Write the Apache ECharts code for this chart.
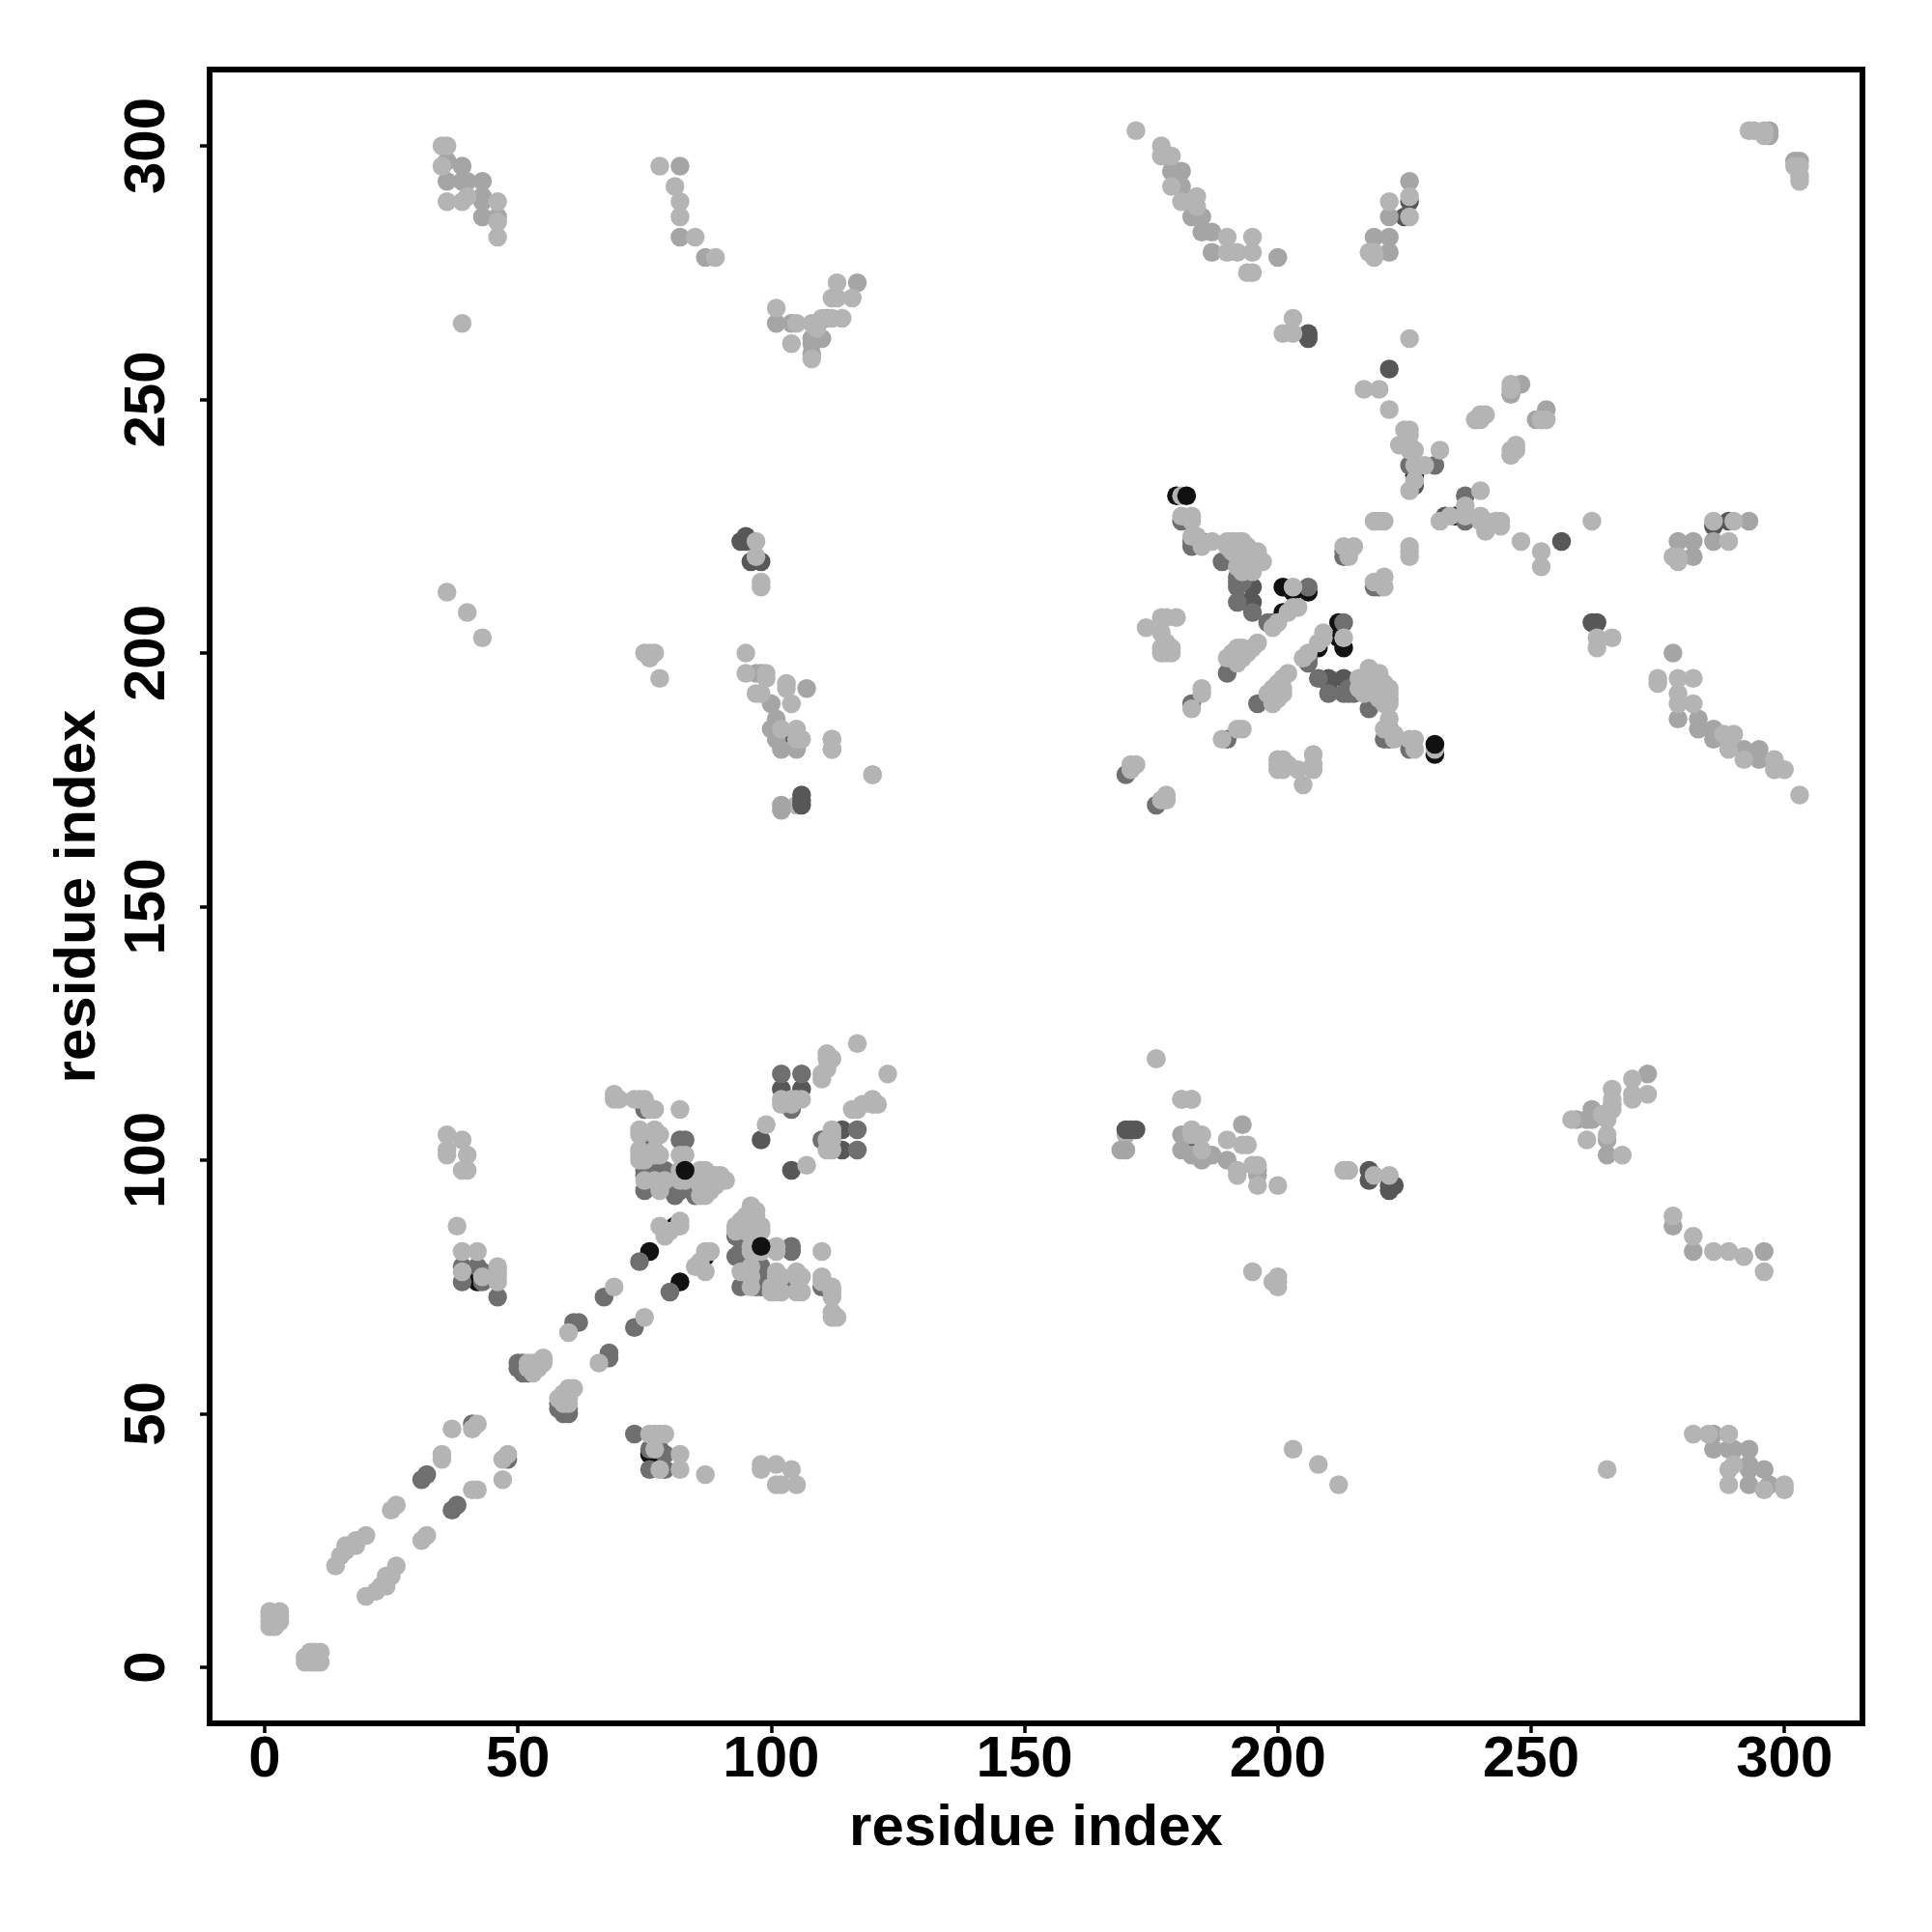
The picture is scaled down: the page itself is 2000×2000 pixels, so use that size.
<!DOCTYPE html>
<html><head><meta charset="utf-8">
<style>html,body{margin:0;padding:0;background:#fff}#c{width:2000px;height:2000px}</style>
<script src="https://cdn.jsdelivr.net/npm/echarts@6/dist/echarts.min.js"></script>
</head><body><div id="c"></div>
<script>
const tickLabels = [0, 50, 100, 150, 200, 250, 300];
const underContacts = [[105,170]];
const blackContacts = [[76,82],[81,87],[42,76],[42,78],[180,231],[201,213],[203,212],[206,212],[201,208],[227,235],[86,96]];
const darkContacts = [[94,222],[95,223],[95,222],[96,218],[98,218],[195,213],[195,210],[194,210],[102,183],[102,182],[106,170],[106,171],[106,172],[206,262],[206,263],[98,104],[102,114],[106,114],[214,220],[227,233],[226,289],[225,286],[222,256]];
const midContacts = [[74,80],[67,73],[61,68],[62,68],[31,37],[32,38],[50,60],[51,60],[51,59],[51,58],[50,59],[52,58],[41,48],[75,110],[82,104],[83,104],[39,79],[39,76],[42,79],[43,78],[43,76],[46,73],[75,98],[76,98],[77,98],[78,98],[79,98],[75,97],[76,97],[78,96],[75,94],[82,94],[84,95],[81,93],[81,95],[75,104],[85,93],[104,110],[102,117],[106,117],[190,196],[183,190],[170,176],[195,208],[189,218],[192,213],[192,214],[192,215],[226,237],[231,237],[213,220],[213,219],[206,213],[199,206],[198,206],[181,226],[183,222],[185,222],[183,221],[193,214],[192,210]];
const softContacts = [[36,293],[39,293],[40,293],[43,293],[43,290],[43,289],[43,286],[46,286],[36,297],[39,296],[101,265],[108,262],[108,261],[108,259],[179,295],[181,295],[183,286],[185,286],[185,283],[187,279],[187,283],[222,279],[222,282],[219,282],[222,286],[82,282],[87,278],[181,292],[97,196],[102,169],[102,170],[297,303],[297,302],[248,253],[246,251],[102,181],[105,181],[100,190],[101,187],[98,196],[200,278],[226,293],[107,193],[100,185],[111,266],[110,262],[104,265],[117,273],[82,296],[101,183]];
const diagonalLight = [[1,8],[1,9],[1,10],[1,11],[2,8],[2,9],[2,10],[3,9],[3,10],[3,11],[14,20],[15,22],[16,23],[16,24],[18,24],[18,25],[20,26],[25,31],[26,32],[35,41],[35,42],[37,47],[41,47],[42,48],[52,59],[52,60],[53,58],[53,59],[53,60],[54,59],[54,60],[55,60],[55,61],[60,66],[69,75],[78,87],[79,85],[82,87],[82,88],[79,86],[80,86]];
const blockLight = [[69,112],[69,113],[70,112],[73,112],[74,112],[75,112],[76,110],[77,110],[82,110],[74,106],[74,105],[77,106],[77,105],[78,105],[82,101],[83,101],[74,102],[74,101],[74,100],[75,100],[75,101],[77,102],[77,101],[78,101],[75,96],[77,96],[79,96],[82,96],[82,98],[82,97],[83,96],[78,94],[86,97],[87,97],[89,96],[91,96],[88,94],[86,93],[89,97],[86,98],[87,93],[87,98],[88,95],[90,97],[89,95],[88,96],[87,95],[86,95],[99,107],[102,112],[102,111],[104,111],[105,112],[106,112],[104,112],[110,116],[111,118],[111,120],[112,120],[111,121],[110,117],[117,123]];
const leftLight = [[39,82],[42,82],[38,87],[46,78],[46,76],[46,77],[46,79],[39,78],[43,77],[36,105],[39,104],[36,102],[36,101],[40,101],[39,98],[40,98],[35,300],[36,300],[35,296],[36,289],[39,289],[40,290],[46,289],[46,285],[46,282],[39,265],[78,296],[81,292],[82,289],[82,286],[85,282],[89,278],[101,268],[104,261],[105,265],[108,265],[110,266],[108,258],[112,270],[113,273],[116,270],[113,270],[114,266],[112,266],[109,264]];
const arcLight = [[172,303],[177,298],[177,300],[179,298],[179,292],[181,289],[183,289],[184,288],[184,290],[190,282],[195,282],[190,279],[192,279],[195,279],[195,275],[194,275],[203,266],[201,263],[203,263],[226,262],[217,252],[220,252],[222,248],[225,244],[226,244],[224,241],[226,240],[232,240],[246,253],[246,252],[240,247],[239,246],[246,240],[247,241],[246,239],[252,246],[293,303],[294,303],[296,303],[296,302],[226,286],[226,290],[222,289],[219,279],[218,279],[219,278]];
const middleLight = [[36,212],[40,208],[43,203],[75,200],[76,200],[77,200],[76,199],[78,195],[95,200],[95,196],[99,196],[99,195],[97,192],[98,192],[103,194],[103,193],[104,190],[102,185],[105,185],[106,183],[105,183],[112,183],[112,181],[120,176],[97,222],[97,219],[98,214],[98,213],[176,120]];
const hubLight = [[181,231],[181,227],[183,227],[183,226],[183,223],[184,223],[185,221],[187,222],[190,222],[191,222],[192,222],[193,222],[194,221],[195,220],[196,218],[194,218],[192,217],[192,219],[191,220],[193,216],[195,216],[197,218],[193,219],[195,218],[190,221],[192,221],[194,219],[196,220],[203,213],[203,209],[202,208],[200,206],[199,205],[204,209],[174,205],[178,207],[180,207],[177,204],[178,202],[178,200],[179,200],[177,200],[177,201],[179,201],[177,207],[196,202],[195,201],[192,201],[193,199],[190,199],[192,198],[194,200],[191,200],[193,201],[185,193],[185,192],[183,189],[171,178],[172,178],[171,177],[213,221],[215,221],[214,219],[219,226],[220,226],[221,226],[227,237],[227,234],[226,232],[229,237],[227,240],[225,241],[226,243],[226,241],[181,112],[183,112]];
const topContacts = [[182,231],[83,98]];
const shades = {black:'#111111', dark:'#575757', mid:'#6f6f6f', soft:'#a5a5a5', light:'#b4b4b4'};

function both(list){ return list.flatMap(function(p){ return [[p[0],p[1]],[p[1],p[0]]]; }); }
function layer(name,list,color){
  return {type:'scatter',name:name,data:both(list),symbol:'circle',symbolSize:19.5,silent:true,
    animation:false,itemStyle:{color:color,opacity:1,borderWidth:0}};
}
const font = '"Liberation Sans", Arial, Helvetica, sans-serif';
const tickStyle = {show:true,length:10,inside:false,lineStyle:{color:'#000',width:3.5},customValues:tickLabels};
const lineStyle = {show:true,onZero:false,lineStyle:{color:'#000',width:6,cap:'square'}};
const chart = echarts.init(document.getElementById('c'),null,{renderer:'canvas'});
chart.setOption({
  animation:false,backgroundColor:'#fff',
  grid:{left:217,top:72,width:1711,height:1712,show:true,borderColor:'#000',borderWidth:6,backgroundColor:'#fff',containLabel:false},
  xAxis:{type:'value',position:'bottom',min:-10.85,max:315.4,name:'residue index',nameLocation:'middle',nameGap:79,
    nameTextStyle:{fontFamily:font,fontWeight:'bold',fontSize:60,color:'#000'},
    axisLine:lineStyle,splitLine:{show:false},axisTick:tickStyle,
    axisLabel:{show:true,customValues:tickLabels,fontFamily:font,fontWeight:'bold',fontSize:60,color:'#000',margin:8,hideOverlap:false}},
  yAxis:{type:'value',position:'left',min:-11.05,max:315.05,name:'residue index',nameLocation:'middle',nameGap:106,nameRotate:90,
    nameTextStyle:{fontFamily:font,fontWeight:'bold',fontSize:60,color:'#000'},
    axisLine:lineStyle,splitLine:{show:false},axisTick:tickStyle,
    axisLabel:{show:true,customValues:tickLabels,rotate:90,fontFamily:font,fontWeight:'bold',fontSize:60,color:'#000',margin:34,hideOverlap:false}},
  series:[
    layer('under',underContacts,shades.light),
    layer('black',blackContacts,shades.black),
    layer('dark',darkContacts,shades.dark),
    layer('mid',midContacts,shades.mid),
    layer('soft',softContacts,shades.soft),
    layer('light',[].concat(diagonalLight,blockLight,leftLight,arcLight,middleLight,hubLight),shades.light),
    layer('top',topContacts,shades.black)
  ]
});
</script></body></html>
